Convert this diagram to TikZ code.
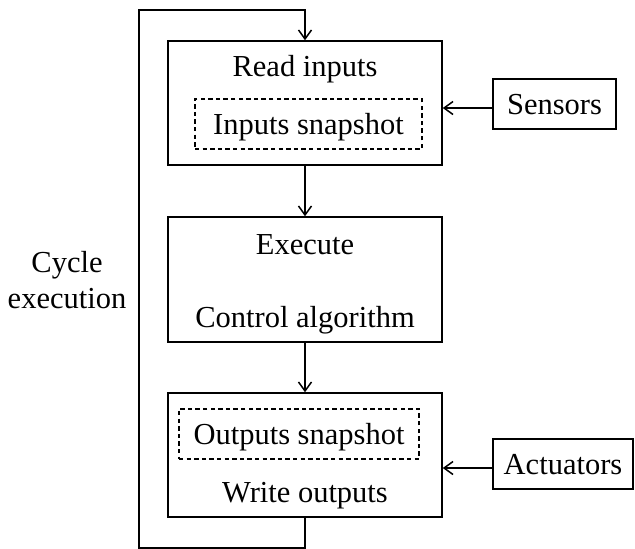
\documentclass[tikz,border=0pt]{standalone}
\usepackage{fontspec}
\setmainfont{Liberation Serif}
\usetikzlibrary{arrows.meta,calc}
\tikzset{
    blk/.style={draw, line width=0.75pt, minimum width=137pt, minimum height=62pt, inner sep=0pt},
    snap/.style={draw, dash pattern=on 2.2pt off 1.6pt, line width=0.6pt, minimum height=25pt,
        text height=10pt, text depth=0pt, inner sep=0pt},
    dev/.style={draw, line width=0.75pt, minimum height=25pt, text height=10pt, text depth=0pt, inner sep=0pt},
    lbl/.style={anchor=base},
    arr/.style={-{Straight Barb[length=4.5pt,width=6.5pt]}, line width=0.75pt}
}

\begin{document}
\begin{tikzpicture}[x=0.5pt,y=-0.5pt,font=\fontsize{15.25}{18}\selectfont]
    \useasboundingbox (0,0) rectangle (635,548);

    \node[blk] (read) at (305,103) {};
    \node[blk, minimum height=62.5pt] (exec) at (305,279.5) {};
    \node[blk] (write) at (305,455) {};

    \node[lbl] (readtxt) at (305,76) {Read inputs};
    \node[snap, minimum width=113.5pt] (insnap) at (308.5,124) {Inputs snapshot};
    \node[lbl] (exectxt) at (305,254) {Execute};
    \node[lbl] (algtxt) at (305,327) {Control algorithm};
    \node[snap, minimum width=120pt] (outsnap) at (299,434) {Outputs snapshot};
    \node[lbl] (writetxt) at (305,502) {Write outputs};

    \node[dev, minimum width=61.5pt] (sens) at (554.5,104) {Sensors};
    \node[dev, minimum width=70pt] (act) at (563,464) {Actuators};

    \node[lbl, align=center] (cycle) at (67,308) {Cycle\\execution};

    \draw[arr] (read) -- (exec);
    \draw[arr] (exec) -- (write);
    \draw[arr] ($(sens.west)+(0,4)$) -- ($(sens.west -| read.east)+(0,4)$);
    \draw[arr] ($(act.west)+(0,4)$) -- ($(act.west -| write.east)+(0,4)$);

    % loop back to the top
    \coordinate (lowc) at (139,548);
    \coordinate (topc) at (305,10);
    \draw[arr] (write.south) |- (lowc) |- (topc) -- (read.north);

\end{tikzpicture}
\end{document}
